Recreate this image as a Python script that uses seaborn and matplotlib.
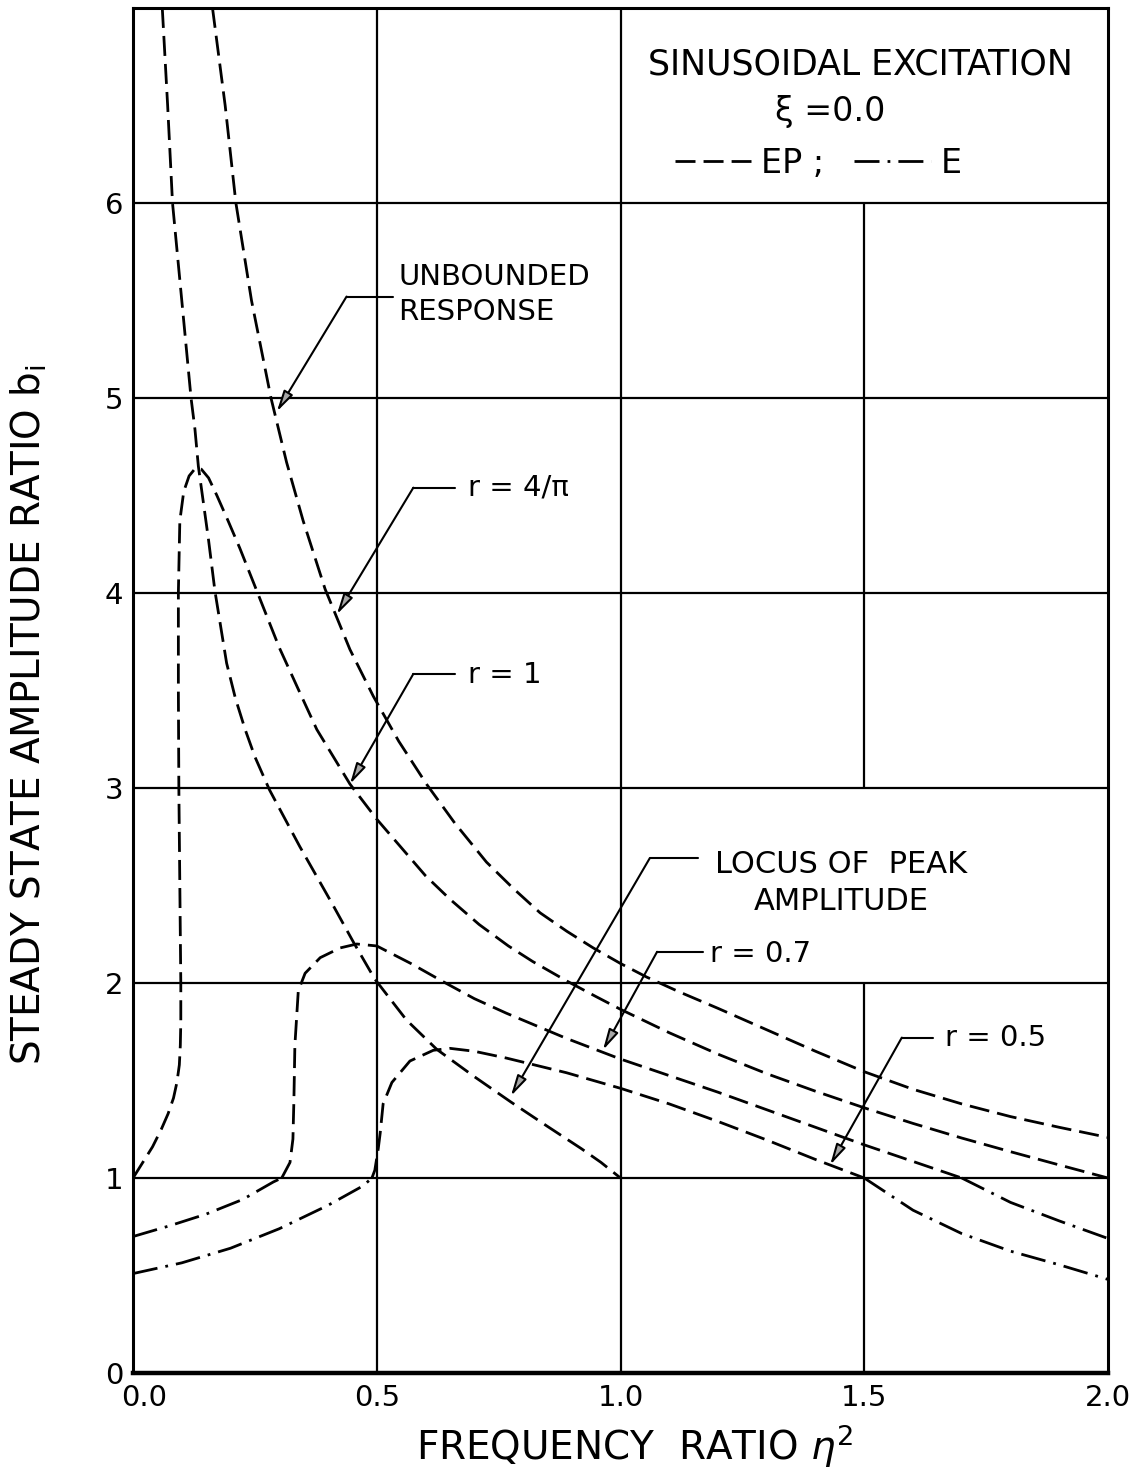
import matplotlib
matplotlib.use("Agg")
import matplotlib.pyplot as plt
import matplotlib.transforms as mtransforms
from matplotlib.lines import Line2D
import seaborn as sns

# werte (eta^2, b_i)
loc_eta = [0.060, 0.071, 0.081, 0.100, 0.119, 0.127, 0.134, 0.155, 0.168, 0.192, 0.210, 0.230,
           0.250, 0.280, 0.342, 0.410, 0.452, 0.496, 0.561, 0.623, 0.700, 0.775, 0.850, 0.920,
           0.960, 1.000]
loc_b = [7.00, 6.50, 6.00, 5.50, 5.00, 4.84, 4.65, 4.27, 4.01, 3.64, 3.46, 3.30,
         3.16, 2.99, 2.70, 2.40, 2.21, 2.02, 1.81, 1.66, 1.52, 1.39, 1.265, 1.15,
         1.08, 1.00]

r43_eta = [0.163, 0.189, 0.211, 0.243, 0.283, 0.315, 0.349, 0.394, 0.445, 0.493, 0.545, 0.602,
           0.660, 0.725, 0.780, 0.835, 0.890, 0.944, 1.000, 1.054, 1.120, 1.200, 1.300, 1.400,
           1.500, 1.600, 1.700, 1.800, 1.900, 2.000]
r43_b = [7.00, 6.50, 6.00, 5.50, 5.00, 4.67, 4.37, 4.02, 3.71, 3.47, 3.24, 3.02,
         2.82, 2.62, 2.485, 2.36, 2.265, 2.18, 2.10, 2.03, 1.955, 1.87, 1.76, 1.65,
         1.545, 1.455, 1.38, 1.315, 1.26, 1.208]

r1_eta = [0.000, 0.020, 0.040, 0.058, 0.072, 0.083, 0.090, 0.095, 0.097, 0.098, 0.098, 0.096,
          0.094, 0.093, 0.093, 0.096, 0.104, 0.115, 0.128, 0.140, 0.155, 0.172, 0.195, 0.219,
          0.254, 0.300, 0.342, 0.377, 0.445, 0.500, 0.600, 0.650, 0.710, 0.770, 0.820, 0.890,
          0.950, 1.000, 1.100, 1.200, 1.300, 1.400, 1.500, 1.600, 1.700, 1.800, 1.900, 2.000]
r1_b = [1.00, 1.08, 1.16, 1.25, 1.33, 1.41, 1.49, 1.58, 1.68, 1.80, 2.00, 2.50,
        3.00, 3.50, 4.00, 4.37, 4.52, 4.60, 4.64, 4.635, 4.59, 4.50, 4.37, 4.23,
        4.01, 3.72, 3.49, 3.30, 3.02, 2.84, 2.55, 2.43, 2.30, 2.19, 2.11, 2.01,
        1.93, 1.865, 1.745, 1.635, 1.535, 1.445, 1.36, 1.28, 1.205, 1.135, 1.067, 1.00]

# r = 0.7 : elastisch (unten), elasto-plastisch, elastisch (oben)
r07_lo_eta = [0.000, 0.075, 0.150, 0.225, 0.288, 0.305]
r07_lo_b = [0.70, 0.755, 0.815, 0.89, 0.98, 1.00]
r07_ep_eta = [0.305, 0.322, 0.328, 0.330, 0.332, 0.339, 0.353, 0.384, 0.425, 0.459, 0.500, 0.570,
              0.636, 0.700, 0.766, 0.889, 1.000, 1.100, 1.200, 1.300, 1.400, 1.500, 1.600, 1.700]
r07_ep_b = [1.00, 1.08, 1.20, 1.40, 1.68, 1.96, 2.05, 2.13, 2.18, 2.20, 2.19, 2.10,
            2.007, 1.92, 1.845, 1.716, 1.61, 1.525, 1.44, 1.35, 1.26, 1.17, 1.085, 1.00]
r07_hi_eta = [1.700, 1.800, 1.900, 2.000]
r07_hi_b = [1.00, 0.875, 0.78, 0.69]

# r = 0.5
r05_lo_eta = [0.000, 0.100, 0.200, 0.300, 0.400, 0.472, 0.490]
r05_lo_b = [0.51, 0.565, 0.64, 0.74, 0.86, 0.96, 1.00]
r05_ep_eta = [0.490, 0.496, 0.503, 0.507, 0.513, 0.531, 0.568, 0.616, 0.650, 0.700, 0.766, 0.889,
              1.000, 1.100, 1.200, 1.300, 1.400, 1.500]
r05_ep_b = [1.00, 1.04, 1.15, 1.23, 1.38, 1.49, 1.60, 1.655, 1.665, 1.65, 1.615, 1.54,
            1.46, 1.38, 1.29, 1.195, 1.095, 1.00]
r05_hi_eta = [1.500, 1.600, 1.700, 1.800, 1.900, 2.000]
r05_hi_b = [1.00, 0.835, 0.715, 0.625, 0.555, 0.48]

x_ticks = [0.0, 0.5, 1.0, 1.5, 2.0]
x_ticklabels = ["0.0", "0.5", "1.0", "1.5", "2.0"]
y_ticks = [0, 1, 2, 3, 4, 5, 6]

EP = (0, (7.2, 2.9))
E = (0, (9.0, 2.9, 1.0, 2.9))

curves = [
    (loc_eta, loc_b, EP),
    (r43_eta, r43_b, EP),
    (r1_eta, r1_b, EP),
    (r07_lo_eta, r07_lo_b, E),
    (r07_ep_eta, r07_ep_b, EP),
    (r07_hi_eta, r07_hi_b, E),
    (r05_lo_eta, r05_lo_b, E),
    (r05_ep_eta, r05_ep_b, EP),
    (r05_hi_eta, r05_hi_b, E),
]

# beschriftungen: text, textpos, waagrechter strich (x1, x2, y), pfeilspitze
labels = [
    ("UNBOUNDED\nRESPONSE", (0.544, 5.53), (0.438, 0.533, 5.52), (0.295, 4.93)),
    ("r = 4/\u03c0", (0.687, 4.54), (0.575, 0.660, 4.54), (0.418, 3.89)),
    ("r = 1", (0.687, 3.58), (0.575, 0.660, 3.585), (0.445, 3.02)),
    ("r = 0.7", (1.184, 2.15), (1.075, 1.169, 2.16), (0.964, 1.656)),
    ("r = 0.5", (1.666, 1.72), (1.577, 1.641, 1.72), (1.430, 1.067)),
]

sns.set_style("white")
plt.rcParams["font.family"] = ["DejaVu Sans"]
plt.rcParams["text.color"] = "black"
plt.rcParams["xtick.color"] = "black"
plt.rcParams["ytick.color"] = "black"

fig, ax = plt.subplots(figsize=(11.37, 14.71), dpi=100)
fig.subplots_adjust(left=0.117, right=0.9745, bottom=0.0666, top=0.9946)

# gitter
for yy in y_ticks[1:]:
    ax.axhline(yy, color="k", lw=1.6, zorder=1)
ax.axvline(0.5, color="k", lw=1.6, zorder=1)
ax.axvline(1.0, color="k", lw=1.6, zorder=1)
ax.vlines(1.5, 0, 2, color="k", lw=1.6, zorder=1)
ax.vlines(1.5, 3, 6, color="k", lw=1.6, zorder=1)

# kurven
for xs, ys, ls in curves:
    sns.lineplot(x=xs, y=ys, ax=ax, sort=False, estimator=None, color="k",
                 lw=2.0, linestyle=ls, zorder=3)

ax.set_xlim(0, 2.0)
ax.set_ylim(0, 7)
ax.set_xticks(x_ticks)
ax.set_xticklabels(x_ticklabels)
ax.set_yticks(y_ticks)
ax.set_yticklabels([str(v) for v in y_ticks])
ax.tick_params(length=0, labelsize=21, colors="black")
ax.tick_params(axis="x", pad=8)
ax.tick_params(axis="y", pad=7)
ax.set_xlabel("")
ax.set_ylabel("")

# 0.0 etwas nach rechts schieben
lab0 = ax.get_xticklabels()[0]
lab0.set_transform(lab0.get_transform() + mtransforms.ScaledTranslation(0.11, 0, fig.dpi_scale_trans))

for s in ax.spines.values():
    s.set_color("k")
    s.set_linewidth(2.2)
ax.spines["bottom"].set_linewidth(3.2)

arrow_kw = dict(arrowstyle="-|>,head_length=0.9,head_width=0.22", lw=1.5,
                color="k", fc="0.65", shrinkA=0, shrinkB=0, mutation_scale=14)

# pfeile
for txt, tpos, hline, tip in labels:
    ax.text(tpos[0], tpos[1], txt, ha="left", va="center", fontsize=21, linespacing=1.3)
    ax.plot([hline[0], hline[1]], [hline[2], hline[2]], color="k", lw=1.5)
    ax.annotate("", xy=tip, xytext=(hline[0], hline[2]), arrowprops=arrow_kw)

ax.text(1.453, 2.515, "LOCUS OF  PEAK\nAMPLITUDE", ha="center", va="center",
        fontsize=22, linespacing=1.35, multialignment="center")
ax.plot([1.060, 1.159], [2.64, 2.64], color="k", lw=1.5)
ax.annotate("", xy=(0.775, 1.42), xytext=(1.060, 2.64), arrowprops=arrow_kw)

# titel
ax.text(1.493, 6.71, "SINUSOIDAL EXCITATION", ha="center", va="center", fontsize=25)
ax.text(1.43, 6.47, "\u03be =0.0", ha="center", va="center", fontsize=24)
handles = [Line2D([], [], color="k", lw=2.0, linestyle=EP),
           Line2D([], [], color="k", lw=2.0, linestyle=E)]
ax.legend(handles, ["EP ;", "E"], ncol=2, loc="center", bbox_to_anchor=(0.703, 0.886),
          frameon=False, fontsize=24, handlelength=2.3, handletextpad=0.3, columnspacing=0.9)

fig.text(0.0255, 0.514, "STEADY STATE AMPLITUDE RATIO b$_\\mathregular{i}$", rotation=90,
         ha="center", va="center", fontsize=28)
fig.text(0.5585, 0.0075, "FREQUENCY  RATIO $\\eta^2$", ha="center", va="baseline", fontsize=28)

fig.savefig("out.png", dpi=100)
